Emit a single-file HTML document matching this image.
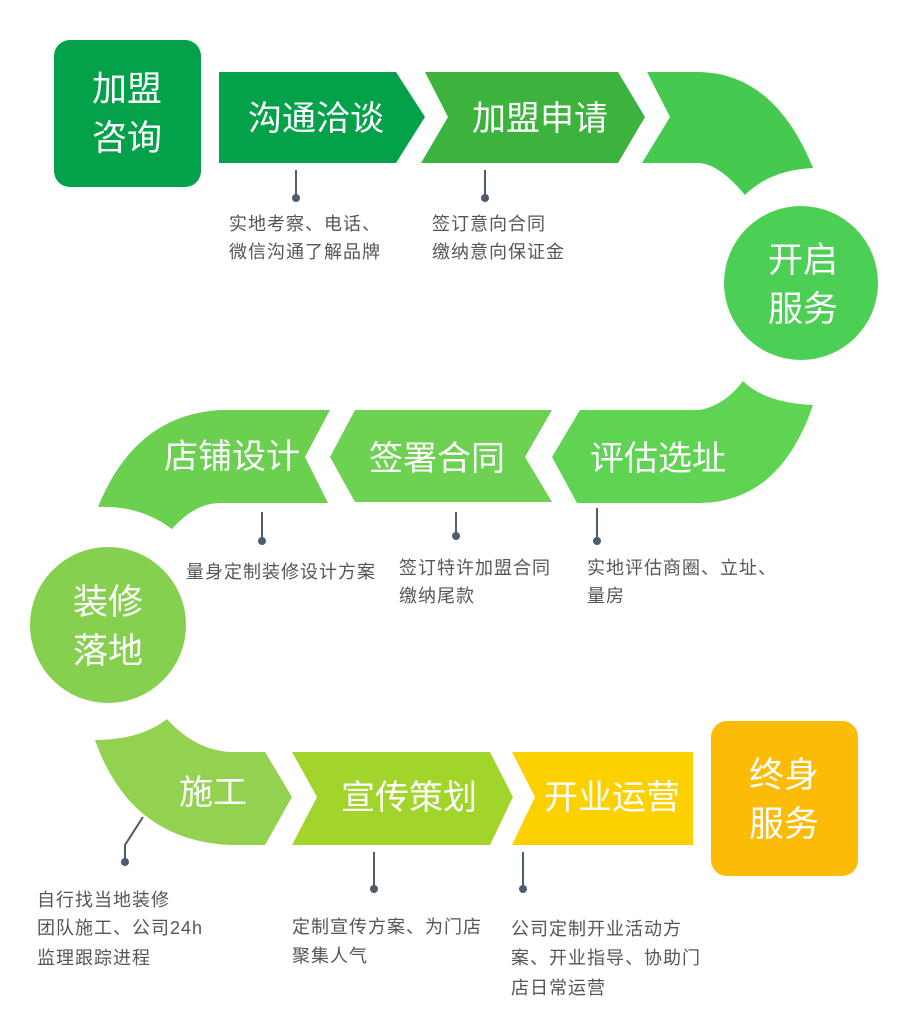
<!DOCTYPE html>
<html><head><meta charset="utf-8"><style>
html,body{margin:0;padding:0;background:#fff;width:906px;height:1024px;overflow:hidden}
svg{display:block}
.t{font-family:"Liberation Sans","Noto Sans CJK SC",sans-serif;fill:#fff}
.c{font-family:"Liberation Sans","Noto Sans CJK SC",sans-serif;fill:#555;font-size:18px;letter-spacing:1px}
.l{stroke:#4d5d6b;stroke-width:2;fill:none}
.d{fill:#4d5d6b}
</style></head><body>
<svg width="906" height="1024" viewBox="0 0 906 1024" xmlns="http://www.w3.org/2000/svg">
<rect x="54" y="40" width="147" height="147" rx="16" fill="#04a14b"/>
<text class="t" x="127" y="101" font-size="35" text-anchor="middle">加盟</text>
<text class="t" x="127" y="150" font-size="35" text-anchor="middle">咨询</text>

<polygon points="219,72 396,72 425,117 396,163 219,163" fill="#03a24a"/>
<text class="t" x="316" y="130" font-size="34" text-anchor="middle">沟通洽谈</text>

<polygon points="425,72 618,72 645,117 618,163 421,163 448,117" fill="#3cb33c"/>
<text class="t" x="540" y="130" font-size="34" text-anchor="middle">加盟申请</text>

<path d="M647,72 L700,72 Q775,74 813,168 Q770,170 745,195 Q720,165 700,163 L642,163 L670,117 Z" fill="#45c94f"/>

<circle cx="801" cy="283" r="77" fill="#4ccf55"/>
<text class="t" x="803" y="272" font-size="35" text-anchor="middle">开启</text>
<text class="t" x="803" y="321" font-size="35" text-anchor="middle">服务</text>

<path d="M743,381 Q765,403 813,405 Q780,502 700,503 L577,503 L552,457 L580,410 L700,410 Q725,405 743,381 Z" fill="#5ed452"/>
<text class="t" x="658" y="470" font-size="34" text-anchor="middle">评估选址</text>

<polygon points="355,410 552,410 525,457 552,502 355,502 330,457" fill="#6dd151"/>
<text class="t" x="437" y="470" font-size="34" text-anchor="middle">签署合同</text>

<path d="M330,410 L220,410 Q135,415 98,507 Q140,505 172,529 Q195,503 220,503 L328,503 L305,457 Z" fill="#6bcf50"/>
<text class="t" x="232" y="468" font-size="34" text-anchor="middle">店铺设计</text>

<circle cx="108" cy="625" r="78" fill="#86d04f"/>
<text class="t" x="108" y="614" font-size="35" text-anchor="middle">装修</text>
<text class="t" x="108" y="663" font-size="35" text-anchor="middle">落地</text>

<path d="M167,719 Q195,750 230,752 L265,752 L292,797 L265,845 L230,845 Q130,840 95,740 Q140,740 167,719 Z" fill="#92d250"/>
<text class="t" x="213" y="804" font-size="34" text-anchor="middle">施工</text>

<polygon points="292,752 490,752 513,797 490,845 292,845 317,797" fill="#a2d52c"/>
<text class="t" x="409" y="809" font-size="34" text-anchor="middle">宣传策划</text>

<polygon points="512,752 693,752 693,845 512,845 535,797" fill="#fdd000"/>
<text class="t" x="612" y="809" font-size="34" text-anchor="middle">开业运营</text>

<rect x="711" y="721" width="147" height="155" rx="16" fill="#fbbb07"/>
<text class="t" x="784" y="787" font-size="35" text-anchor="middle">终身</text>
<text class="t" x="784" y="836" font-size="35" text-anchor="middle">服务</text>

<line class="l" x1="296" y1="170" x2="296" y2="195"/><circle class="d" cx="296" cy="198" r="4"/>
<text class="c" x="229" y="230">实地考察、电话、</text>
<text class="c" x="229" y="258">微信沟通了解品牌</text>

<line class="l" x1="485" y1="170" x2="485" y2="195"/><circle class="d" cx="485" cy="198" r="4"/>
<text class="c" x="432" y="230">签订意向合同</text>
<text class="c" x="432" y="258">缴纳意向保证金</text>

<line class="l" x1="262" y1="512" x2="262" y2="538"/><circle class="d" cx="262" cy="541" r="4"/>
<text class="c" x="186" y="578">量身定制装修设计方案</text>

<line class="l" x1="456" y1="512" x2="456" y2="533"/><circle class="d" cx="456" cy="536" r="4"/>
<text class="c" x="399" y="574">签订特许加盟合同</text>
<text class="c" x="399" y="602">缴纳尾款</text>

<line class="l" x1="597" y1="508" x2="597" y2="538"/><circle class="d" cx="597" cy="541" r="4"/>
<text class="c" x="587" y="574">实地评估商圈、立址、</text>
<text class="c" x="587" y="602">量房</text>

<polyline class="l" points="143,817 125,845 125,859"/><circle class="d" cx="125" cy="862" r="4"/>
<text class="c" x="37" y="906">自行找当地装修</text>
<text class="c" x="37" y="934">团队施工、公司24h</text>
<text class="c" x="37" y="964">监理跟踪进程</text>

<line class="l" x1="374" y1="852" x2="374" y2="886"/><circle class="d" cx="374" cy="889" r="4"/>
<text class="c" x="292" y="933">定制宣传方案、为门店</text>
<text class="c" x="292" y="962">聚集人气</text>

<line class="l" x1="523" y1="852" x2="523" y2="886"/><circle class="d" cx="523" cy="889" r="4"/>
<text class="c" x="511" y="935">公司定制开业活动方</text>
<text class="c" x="511" y="964">案、开业指导、协助门</text>
<text class="c" x="511" y="994">店日常运营</text>
</svg>
</body></html>
